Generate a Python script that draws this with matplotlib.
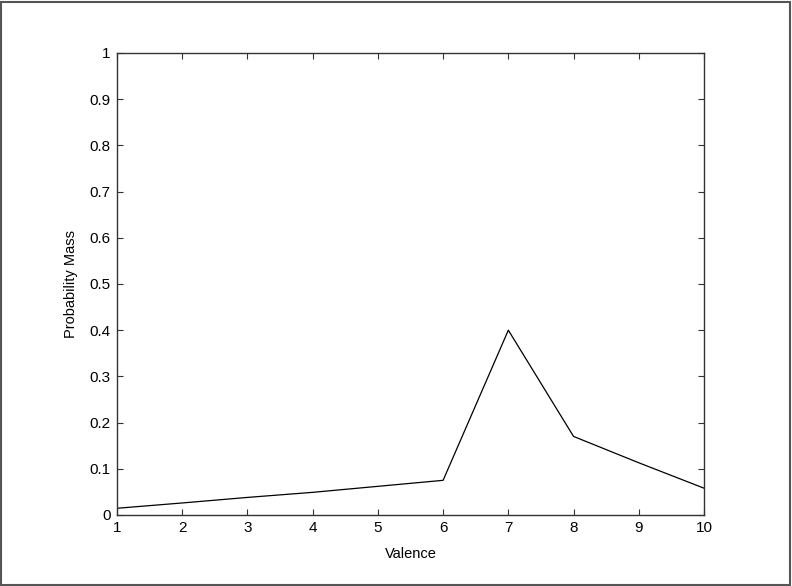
import matplotlib
matplotlib.use('Agg')
import matplotlib.pyplot as plt
from matplotlib.patches import Rectangle

# valence vs probability mass
valence = [1, 2, 3, 4, 5, 6, 7, 8, 9, 10]
prob_mass = [0.0145, 0.026, 0.038, 0.049, 0.062, 0.075, 0.400, 0.170, 0.113, 0.058]
x_ticks = list(range(1, 11))
y_ticks = [0, 0.1, 0.2, 0.3, 0.4, 0.5, 0.6, 0.7, 0.8, 0.9, 1]
y_tick_labels = ['0', '0.1', '0.2', '0.3', '0.4', '0.5', '0.6', '0.7', '0.8', '0.9', '1']

plt.rcParams['font.family'] = ['Liberation Sans', 'DejaVu Sans']

fig = plt.figure(figsize=(7.92, 5.86), dpi=100)
fig.patches.append(Rectangle((0.0015, 0.002), 0.996, 0.995, transform=fig.transFigure,
                             fill=False, edgecolor='#555555', linewidth=1.5))

ax = fig.add_axes([0.1477, 0.1212, 0.7412, 0.7884])
ax.plot(valence, prob_mass, color='black', linewidth=0.9)
ax.set_xlim(1, 10)
ax.set_ylim(0, 1)
ax.set_xticks(x_ticks)
ax.set_yticks(y_ticks)
ax.set_yticklabels(y_tick_labels)
ax.tick_params(direction='in', length=4.5, width=0.8, top=True, right=True,
               labelsize=11, pad=4.5, color='#333333')
for s in ax.spines.values():
    s.set_linewidth(1.0)
    s.set_color('#333333')
ax.set_xlabel('Valence', fontsize=10.5, labelpad=8.5)
ax.set_ylabel('Probability Mass', fontsize=10.5, labelpad=8)

fig.savefig('out.png', dpi=100)
